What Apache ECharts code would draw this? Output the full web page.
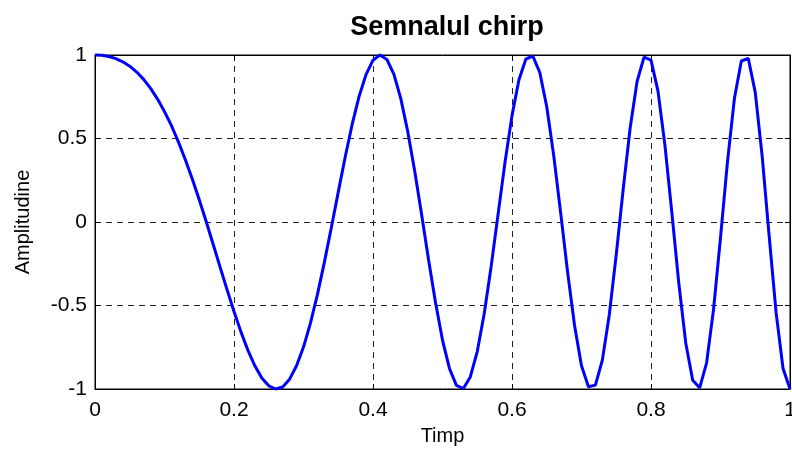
<!DOCTYPE html>
<html>
<head>
<meta charset="utf-8">
<script src="https://cdn.jsdelivr.net/npm/echarts@6/dist/echarts.min.js"></script>
<style>html,body{margin:0;padding:0;background:#fff}#c{width:792px;height:450px}</style>
</head>
<body>
<div id="c"></div>
<script>
const titleText = 'Semnalul chirp';
const xName = 'Timp';
const yName = 'Amplitudine';
const timeStep = 0.01;
const amplitude = [
  1.000, 0.998, 0.991, 0.978, 0.959, 0.933, 0.898, 0.854, 0.800, 0.736,
  0.661, 0.577, 0.480, 0.373, 0.257, 0.133, 0.003, -0.133, -0.270, -0.405,
  -0.536, -0.658, -0.768, -0.861, -0.934, -0.981, -1.000, -0.988, -0.941, -0.861,
  -0.749, -0.606, -0.435, -0.242, -0.034, 0.179, 0.389, 0.584, 0.752, 0.883,
  0.969, 1.000, 0.973, 0.885, 0.739, 0.542, 0.305, 0.043, -0.227, -0.484,
  -0.707, -0.877, -0.978, -0.997, -0.928, -0.776, -0.549, -0.266, 0.047, 0.359,
  0.637, 0.852, 0.976, 0.993, 0.895, 0.690, 0.399, 0.056, -0.300, -0.620,
  -0.861, -0.987, -0.977, -0.827, -0.555, -0.195, 0.197, 0.563, 0.842, 0.987,
  0.969, 0.785, 0.462, 0.056, -0.366, -0.724, -0.948, -0.993, -0.843, -0.523,
  -0.094, 0.359, 0.739, 0.964, 0.979, 0.776, 0.393, -0.083, -0.543, -0.877,
  -1.000
];
const xTicks = [0, 0.2, 0.4, 0.6, 0.8, 1];
const yTicks = [-1, -0.5, 0, 0.5, 1];

const pts = amplitude.map((v, i) => [+(i * timeStep).toFixed(2), v]);
const font = 'Liberation Sans, Arial, Helvetica, sans-serif';
const gridLine = {show: true, lineStyle: {color: '#222', width: 1, type: [6, 5]}};

const chart = echarts.init(document.getElementById('c'), null, {renderer: 'canvas'});
chart.setOption({
  animation: false,
  backgroundColor: '#fff',
  title: {
    text: titleText, left: 442, top: 9, textAlign: 'center',
    textStyle: {fontFamily: font, fontSize: 27, fontWeight: 'bold', color: '#000'}
  },
  grid: {left: 95, right: 2, top: 55, bottom: 61, show: true, borderColor: '#000', borderWidth: 1,
    containLabel: false, outerBoundsMode: 'none'},
  xAxis: [{
    type: 'value', min: xTicks[0], max: xTicks[xTicks.length - 1], interval: 0.2,
    name: xName, nameLocation: 'middle', nameGap: 37,
    nameTextStyle: {fontFamily: font, fontSize: 20, color: '#000'},
    axisLine: {show: true, onZero: false, lineStyle: {color: '#000', width: 1}},
    axisTick: {show: true, inside: true, length: 5, lineStyle: {color: '#000'}},
    axisLabel: {fontFamily: font, fontSize: 21, color: '#000', margin: 11,
      hideOverlap: false, showMaxLabel: true, showMinLabel: true,
      formatter: v => String(+v.toFixed(1))},
    splitLine: gridLine
  }, {
    type: 'value', position: 'top', min: 0, max: 1, interval: 0.2,
    axisLine: {show: true, onZero: false, lineStyle: {color: '#000'}},
    axisTick: {show: true, inside: true, length: 5, lineStyle: {color: '#000'}},
    axisLabel: {show: false}, splitLine: {show: false}
  }],
  yAxis: [{
    type: 'value', min: yTicks[0], max: yTicks[yTicks.length - 1], interval: 0.5,
    name: yName, nameLocation: 'middle', nameGap: 62, nameRotate: 90,
    nameTextStyle: {fontFamily: font, fontSize: 20, color: '#000'},
    axisLine: {show: true, onZero: false, lineStyle: {color: '#000', width: 1}},
    axisTick: {show: true, inside: true, length: 5, lineStyle: {color: '#000'}},
    axisLabel: {fontFamily: font, fontSize: 21, color: '#000', margin: 8},
    splitLine: gridLine
  }, {
    type: 'value', position: 'right', min: -1, max: 1, interval: 0.5,
    axisLine: {show: true, onZero: false, lineStyle: {color: '#000'}},
    axisTick: {show: true, inside: true, length: 5, lineStyle: {color: '#000'}},
    axisLabel: {show: false}, splitLine: {show: false}
  }],
  series: [{
    type: 'line', data: pts, xAxisIndex: 0, yAxisIndex: 0,
    showSymbol: false, smooth: false, clip: false,
    lineStyle: {color: '#0000ff', width: 3}
  }]
});
</script>
</body>
</html>
